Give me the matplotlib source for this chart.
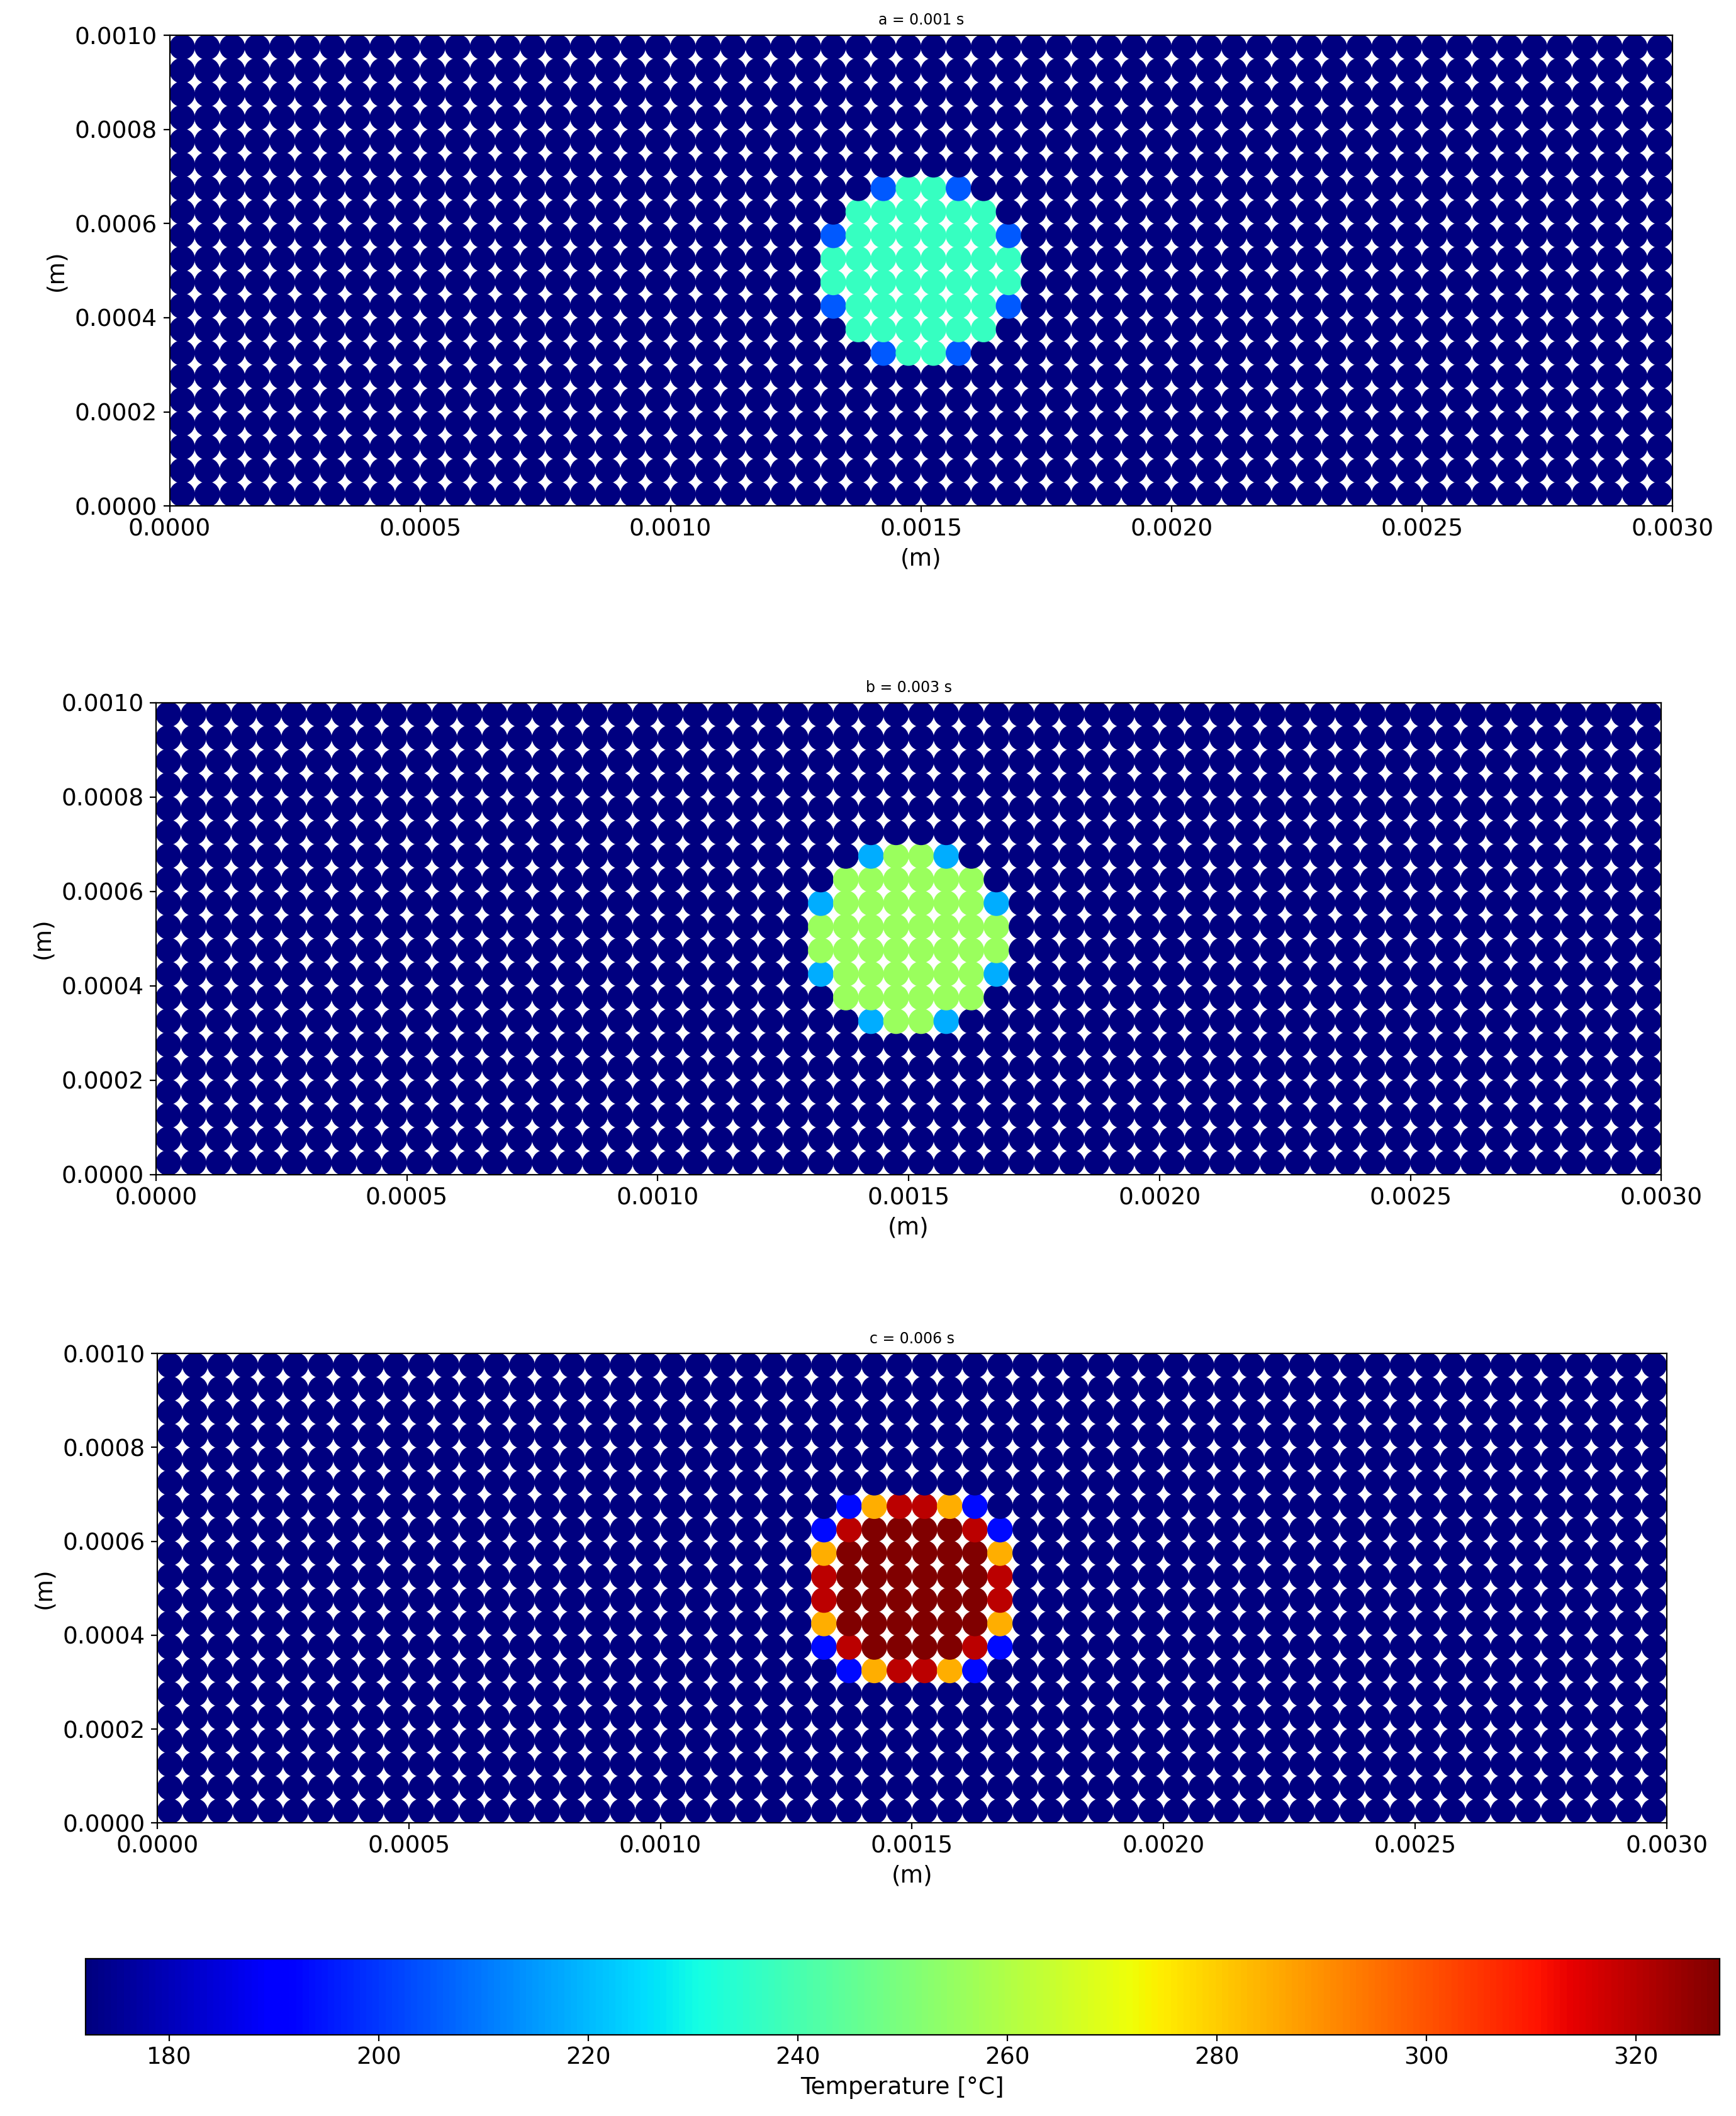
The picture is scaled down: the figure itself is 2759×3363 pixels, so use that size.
import numpy as np
import matplotlib
matplotlib.use("Agg")
import matplotlib.pyplot as plt

# grid of nodes (cell centres)
nx, ny = 60, 20
dx = 0.00005
x_max, y_max = 0.003, 0.001
t_min, t_max = 172, 328
background = 172

titles = ["a = 0.001 s", "b = 0.003 s", "c = 0.006 s"]

# hot spot patterns (8x8 block, top row first); '.' = background
patterns = [
    ["..BCCB..",
     ".CCCCCC.",
     "BCCCCCCB",
     "CCCCCCCC",
     "CCCCCCCC",
     "BCCCCCCB",
     ".CCCCCC.",
     "..BCCB.."],
    ["..BCCB..",
     ".CCCCCC.",
     "BCCCCCCB",
     "CCCCCCCC",
     "CCCCCCCC",
     "BCCCCCCB",
     ".CCCCCC.",
     "..BCCB.."],
    [".BOrrOB.",
     "BrDDDDrB",
     "ODDDDDDO",
     "rDDDDDDr",
     "rDDDDDDr",
     "ODDDDDDO",
     "BrDDDDrB",
     ".BOrrOB."],
]
levels = [
    {"B": 205, "C": 237},
    {"B": 218, "C": 256},
    {"B": 193, "O": 285, "r": 320, "D": 328},
]
block_col0, block_row_top = 26, 13

axes_pos = [
    [0.0977, 0.7609, 0.8656, 0.2224],
    [0.0898, 0.4449, 0.8672, 0.2231],
    [0.0906, 0.1385, 0.8695, 0.2218],
]

fig = plt.figure(figsize=(13.795, 16.815), dpi=200)
xs = (np.arange(nx) + 0.5) * dx
ys = (np.arange(ny) + 0.5) * dx
X, Y = np.meshgrid(xs, ys)

sc = None
for k in range(3):
    T = np.full((ny, nx), background, dtype=float)
    for r, line in enumerate(patterns[k]):
        for c, ch in enumerate(line):
            if ch != ".":
                T[block_row_top - r, block_col0 + c] = levels[k][ch]
    ax = fig.add_axes(axes_pos[k])
    sc = ax.scatter(X.ravel(), Y.ravel(), c=T.ravel(), cmap="jet",
                    vmin=t_min, vmax=t_max, s=215, linewidths=0)
    ax.set_xlim(0, x_max)
    ax.set_ylim(0, y_max)
    ax.set_xticks(np.arange(0, 0.00301, 0.0005))
    ax.set_yticks(np.arange(0, 0.00101, 0.0002))
    ax.xaxis.set_major_formatter(matplotlib.ticker.FormatStrFormatter("%.4f"))
    ax.yaxis.set_major_formatter(matplotlib.ticker.FormatStrFormatter("%.4f"))
    ax.tick_params(labelsize=13.5)
    ax.set_xlabel("(m)", fontsize=13.5)
    ax.set_ylabel("(m)", fontsize=13.5)
    ax.set_title(titles[k], fontsize=8.5)

cax = fig.add_axes([0.0492, 0.0385, 0.9414, 0.0359])
cb = fig.colorbar(sc, cax=cax, orientation="horizontal")
cb.set_ticks(np.arange(180, 321, 20))
cb.ax.tick_params(labelsize=13.5)
cb.set_label("Temperature [°C]", fontsize=13.5)

fig.savefig("out.png", dpi=200)
